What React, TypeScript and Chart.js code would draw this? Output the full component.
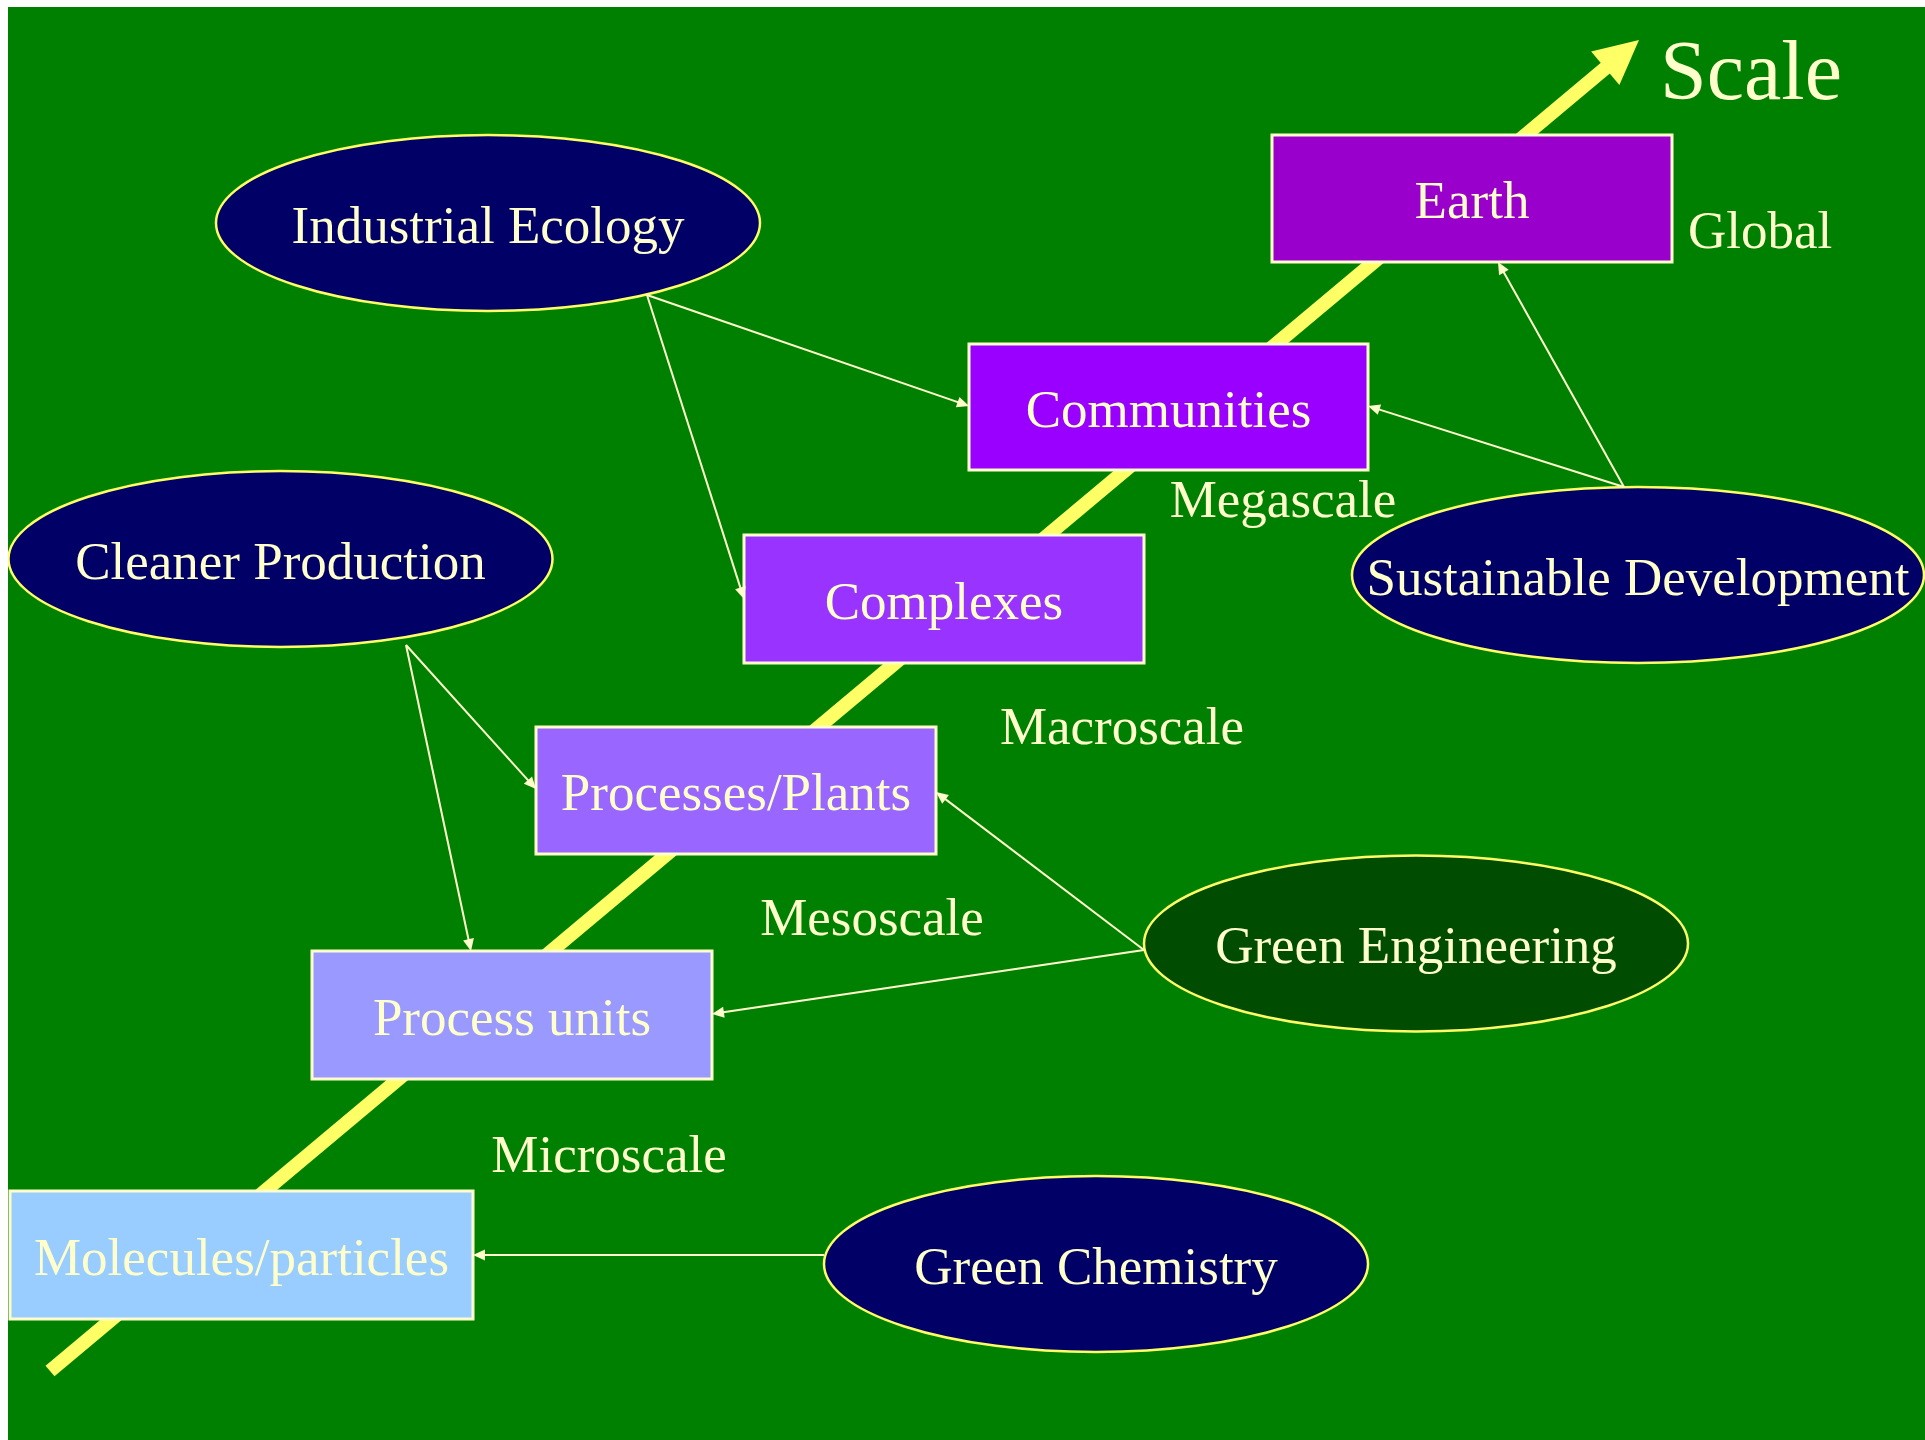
import React, { useEffect, useRef } from "react";
import { Chart, registerables } from "chart.js";

Chart.register(...registerables);

// Scale axis (arrow) – tail and tip, in diagram units
const axisX = [50, 1639];
const axisY = [1371, 40];
const axisTitle = "Scale";
const axisTitleX = 1751;
const axisTitleY = 77;

// Scale boxes
const boxLabels = ["Earth", "Communities", "Complexes", "Processes/Plants", "Process units", "Molecules/particles"];
const boxLeft = [1272, 969, 744, 536, 312, 10];
const boxRight = [1672, 1368, 1144, 936, 712, 473];
const boxTop = [135, 344, 535, 727, 951, 1191];
const boxBottom = [262, 470, 663, 854, 1079, 1319];
const boxColors = ["#9900CC", "#9900FF", "#9933FF", "#9966FF", "#9999FF", "#99CCFF"];

// Approaches (ovals)
const ovalLabels = ["Industrial Ecology", "Cleaner Production", "Sustainable Development", "Green Engineering", "Green Chemistry"];
const ovalCx = [488, 280.5, 1638, 1416, 1096];
const ovalCy = [223, 559, 575, 943.5, 1264];
const ovalRx = [272, 272, 286, 272, 272];
const ovalRy = [88, 88, 88, 88, 88];
const ovalColors = ["#000066", "#000066", "#000066", "#004C00", "#000066"];

// Connectors (oval -> box)
const linkFromX = [647, 647, 406, 406, 1624, 1624, 1144, 1144, 824];
const linkFromY = [295, 295, 645, 645, 487, 487, 950, 950, 1255];
const linkToX = [969, 744, 536, 471, 1368, 1498, 936, 712, 473];
const linkToY = [406, 599, 789, 951, 406, 262, 792, 1014, 1255];

// Scale level labels
const levelLabels = ["Global", "Megascale", "Macroscale", "Mesoscale", "Microscale"];
const levelX = [1760, 1283, 1122, 872, 609];
const levelY = [234, 503, 730, 921, 1158];

const BG = "#008000";
const TEXT = "#FFFFCC";
const FONT = '"Liberation Serif", "Times New Roman", serif';
const TEXT_SHIFT = 6;

function arrowHead(ctx: CanvasRenderingContext2D, fx: number, fy: number, tx: number, ty: number, len: number, half: number, color: string) {
  const dx = tx - fx;
  const dy = ty - fy;
  const d = Math.hypot(dx, dy) || 1;
  const ux = dx / d;
  const uy = dy / d;
  const bx = tx - ux * len;
  const by = ty - uy * len;
  ctx.beginPath();
  ctx.moveTo(tx, ty);
  ctx.lineTo(bx - uy * half, by + ux * half);
  ctx.lineTo(bx + uy * half, by - ux * half);
  ctx.closePath();
  ctx.fillStyle = color;
  ctx.fill();
}

const diagramPlugin = {
  id: "diagram",
  beforeDraw(chart: any) {
    const { ctx, width, height } = chart;
    ctx.save();
    ctx.fillStyle = BG;
    ctx.fillRect(0, 0, width, height);
    ctx.restore();
  },
  afterDatasetsDraw(chart: any) {
    const ctx: CanvasRenderingContext2D = chart.ctx;
    const xs = chart.scales.x;
    const ys = chart.scales.y;
    const px = (v: number) => xs.getPixelForValue(v);
    const py = (v: number) => ys.getPixelForValue(v);
    ctx.save();

    // axis arrow head
    const tx = px(axisX[1]);
    const ty = py(axisY[1]);
    arrowHead(ctx, px(axisX[0]), py(axisY[0]), tx, ty, 44, 22, "#FFFF66");

    // boxes
    boxLabels.forEach((lab, i) => {
      const x0 = px(boxLeft[i]);
      const x1 = px(boxRight[i]);
      const y0 = py(boxTop[i]);
      const y1 = py(boxBottom[i]);
      ctx.fillStyle = boxColors[i];
      ctx.fillRect(x0, y0, x1 - x0, y1 - y0);
      ctx.lineWidth = 3;
      ctx.strokeStyle = "#FFFFCC";
      ctx.strokeRect(x0, y0, x1 - x0, y1 - y0);
      ctx.fillStyle = TEXT;
      ctx.font = `53px ${FONT}`;
      ctx.textAlign = "center";
      ctx.textBaseline = "middle";
      ctx.fillText(lab, (x0 + x1) / 2, (y0 + y1) / 2 + TEXT_SHIFT);
    });

    // ovals
    ovalLabels.forEach((lab, i) => {
      const cx = px(ovalCx[i]);
      const cy = py(ovalCy[i]);
      const rx = Math.abs(px(ovalCx[i] + ovalRx[i]) - cx);
      const ry = Math.abs(py(ovalCy[i] + ovalRy[i]) - cy);
      ctx.beginPath();
      ctx.ellipse(cx, cy, rx, ry, 0, 0, Math.PI * 2);
      ctx.fillStyle = ovalColors[i];
      ctx.fill();
      ctx.lineWidth = 2.5;
      ctx.strokeStyle = "#FFFF66";
      ctx.stroke();
      ctx.fillStyle = TEXT;
      ctx.font = `53px ${FONT}`;
      ctx.textAlign = "center";
      ctx.textBaseline = "middle";
      ctx.fillText(lab, cx, cy + TEXT_SHIFT);
    });

    // connectors
    linkFromX.forEach((_, i) => {
      const fx = px(linkFromX[i]);
      const fy = py(linkFromY[i]);
      const ex = px(linkToX[i]);
      const ey = py(linkToY[i]);
      const d = Math.hypot(ex - fx, ey - fy);
      const ux = (ex - fx) / d;
      const uy = (ey - fy) / d;
      ctx.beginPath();
      ctx.moveTo(fx, fy);
      ctx.lineTo(ex - ux * 8, ey - uy * 8);
      ctx.lineWidth = 2;
      ctx.strokeStyle = "#FFFFCC";
      ctx.stroke();
      arrowHead(ctx, fx, fy, ex, ey, 12, 5.5, "#FFFFCC");
    });

    // level labels
    ctx.fillStyle = TEXT;
    ctx.textAlign = "center";
    ctx.textBaseline = "middle";
    ctx.font = `53px ${FONT}`;
    levelLabels.forEach((lab, i) => {
      ctx.fillText(lab, px(levelX[i]), py(levelY[i]));
    });
    ctx.font = `84px ${FONT}`;
    ctx.fillText(axisTitle, px(axisTitleX), py(axisTitleY));

    ctx.restore();
  },
};

export default function App() {
  const ref = useRef<HTMLCanvasElement | null>(null);
  useEffect(() => {
    if (!ref.current) return;
    // shorten the axis line so it ends at the arrow head base
    const dx = axisX[1] - axisX[0];
    const dy = axisY[1] - axisY[0];
    const d = Math.hypot(dx, dy);
    const endX = axisX[1] - (dx / d) * 40;
    const endY = axisY[1] - (dy / d) * 40;
    const chart = new Chart(ref.current, {
      type: "line",
      data: {
        datasets: [
          {
            label: "Scale",
            data: [
              { x: axisX[0], y: axisY[0] },
              { x: endX, y: endY },
            ],
            borderColor: "#FFFF66",
            borderWidth: 14,
            borderCapStyle: "butt",
            pointRadius: 0,
            tension: 0,
          },
        ],
      },
      options: {
        responsive: false,
        animation: false,
        devicePixelRatio: 1,
        layout: { padding: 0 },
        plugins: { legend: { display: false }, tooltip: { enabled: false } },
        events: [],
        scales: {
          x: { type: "linear", min: 8, max: 1925, display: false },
          y: { type: "linear", min: 7, max: 1440, reverse: true, display: false },
        },
      },
      plugins: [diagramPlugin],
    });
    return () => chart.destroy();
  }, []);
  return (
    <div style={{ position: "absolute", left: 8, top: 7 }}>
      <canvas ref={ref} width={1917} height={1433} style={{ display: "block", width: 1917, height: 1433 }} />
    </div>
  );
}
